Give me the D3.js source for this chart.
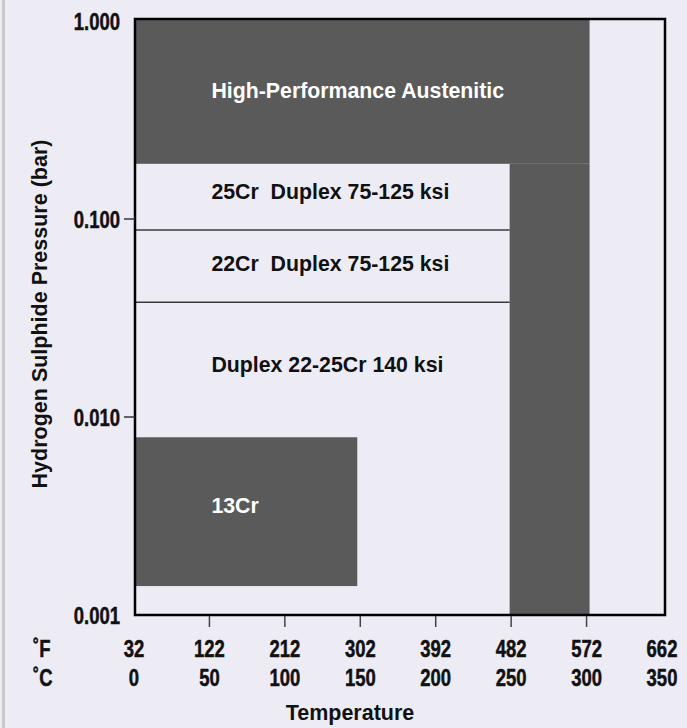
<!DOCTYPE html>
<html>
<head>
<meta charset="utf-8">
<script src="https://cdn.jsdelivr.net/npm/d3@7"></script>
<style>
  html, body { margin: 0; padding: 0; background: #edecf5; }
  #chart { width: 687px; height: 728px; }
  .narrow { font-family: "Liberation Sans", Arial, Helvetica, sans-serif; font-weight: bold; }
  .sans { font-family: "Liberation Sans", Arial, Helvetica, sans-serif; font-weight: bold; }
</style>
</head>
<body>
<div id="chart"></div>
<script>
// temperature axis (deg C) and matching deg F labels
var tempC = [0, 50, 100, 150, 200, 250, 300, 350];
var tempF = [32, 122, 212, 302, 392, 482, 572, 662];
var tickC = [50, 100, 150, 200, 250, 300];

// H2S pressure axis (bar)
var pressTicks = [1, 0.1, 0.01, 0.001];
var pressTickLabels = ["1.000", "0.100", "0.010", "0.001"];
var pressMinorTicks = [0.1, 0.01];

// material regions: [tMin, tMax], [pMin, pMax]
var regionNames = ["High-Performance Austenitic", "High-Performance Austenitic band", "13Cr"];
var regionT = [[0, 302], [249, 302], [0, 148]];
var regionP = [[0.19, 1], [0.001, 0.19], [0.0014, 0.0079]];

// boundary lines between duplex grades (bar), running from 0 to 249 C
var boundaryP = [0.088, 0.038];
var boundaryT = [0, 249];

// text labels inside the chart
var labelText = ["High-Performance Austenitic", "25Cr  Duplex 75-125 ksi", "22Cr  Duplex 75-125 ksi", "Duplex 22-25Cr 140 ksi", "13Cr"];
var labelP = [0.449, 0.1385, 0.06, 0.0185, 0.0036];
var labelT = [50, 50, 50, 50, 50];
var labelDark = [false, true, true, true, false];

var W = 687, H = 728;
var box = {left: 135, right: 665, top: 19, bottom: 615};
var squeeze = 0.77;   // condensed look for the axis numbers

var svg = d3.select("#chart")
  .append("svg")
    .attr("width", W)
    .attr("height", H);

// left grey edge of the panel
svg.append("rect")
  .attr("x", 2).attr("y", 0)
  .attr("width", 3).attr("height", H)
  .attr("fill", "#c9c9cc");

var x = d3.scaleLinear()
  .domain([0, 350])
  .range([134, 662]);

var y = d3.scaleLog()
  .domain([0.001, 1])
  .range([615, 21]);

function clipX(v) { return Math.max(box.left, Math.min(box.right, v)); }
function clipY(v) { return Math.max(box.top, Math.min(box.bottom, v)); }

// regions
svg.append("g")
  .selectAll("rect")
  .data(regionNames)
  .enter().append("rect")
    .attr("x", function(d, i) { return clipX(x(regionT[i][0])); })
    .attr("width", function(d, i) { return clipX(x(regionT[i][1])) - clipX(x(regionT[i][0])); })
    .attr("y", function(d, i) { return i == 0 ? box.top : clipY(y(regionP[i][1])); })
    .attr("height", function(d, i) {
      var top = i == 0 ? box.top : clipY(y(regionP[i][1]));
      return clipY(y(regionP[i][0])) - top;
    })
    .attr("fill", "#5a5a5a");

// boundary lines
svg.append("g")
  .selectAll("line")
  .data(boundaryP)
  .enter().append("line")
    .attr("x1", clipX(x(boundaryT[0])))
    .attr("x2", x(boundaryT[1]))
    .attr("y1", function(d) { return y(d); })
    .attr("y2", function(d) { return y(d); })
    .attr("stroke", "#3a3a3a")
    .attr("stroke-width", 1.4);

// frame
svg.append("rect")
  .attr("x", box.left).attr("y", box.top)
  .attr("width", box.right - box.left)
  .attr("height", box.bottom - box.top)
  .attr("fill", "none")
  .attr("stroke", "#000")
  .attr("stroke-width", 2.5);

// y ticks + labels
svg.append("g")
  .selectAll("line")
  .data(pressMinorTicks)
  .enter().append("line")
    .attr("x1", 124).attr("x2", box.left)
    .attr("y1", function(d) { return y(d); })
    .attr("y2", function(d) { return y(d); })
    .attr("stroke", "#333")
    .attr("stroke-width", 1.5);

function narrowText(g, px, py, anchor, txt) {
  g.append("text")
    .attr("class", "narrow")
    .attr("transform", "translate(" + px + "," + py + ") scale(" + squeeze + ",1)")
    .attr("dy", "0.36em")
    .attr("text-anchor", anchor)
    .attr("font-size", 24)
    .attr("stroke", "#111")
    .attr("stroke-width", 0.5)
    .attr("fill", "#111")
    .text(txt);
}

var yLab = svg.append("g");
pressTicks.forEach(function(d, i) {
  narrowText(yLab, 120, y(d), "end", pressTickLabels[i]);
});

// x ticks
svg.append("g")
  .selectAll("line")
  .data(tickC)
  .enter().append("line")
    .attr("x1", function(d) { return x(d); })
    .attr("x2", function(d) { return x(d); })
    .attr("y1", box.bottom + 1)
    .attr("y2", box.bottom + 12)
    .attr("stroke", "#444")
    .attr("stroke-width", 1.5);

// x labels, deg F row and deg C row
var xLab = svg.append("g");
tempC.forEach(function(d, i) {
  narrowText(xLab, x(d), 648, "middle", tempF[i]);
  narrowText(xLab, x(d), 677, "middle", d);
});
narrowText(xLab, 33, 648, "start", "˚F");
narrowText(xLab, 33, 677, "start", "˚C");

// axis titles
svg.append("text")
  .attr("class", "sans")
  .attr("x", (box.left + box.right) / 2 - 50)
  .attr("y", 712)
  .attr("dy", "0.36em")
  .attr("text-anchor", "middle")
  .attr("font-size", 21.5)
  .attr("fill", "#111")
  .text("Temperature");

svg.append("text")
  .attr("class", "sans")
  .attr("transform", "translate(47," + ((box.top + box.bottom) / 2 - 3) + ") rotate(-90)")
  .attr("text-anchor", "middle")
  .attr("font-size", 21.5)
  .attr("fill", "#111")
  .text("Hydrogen Sulphide Pressure (bar)");

// region labels
svg.append("g")
  .selectAll("text")
  .data(labelText)
  .enter().append("text")
    .attr("class", "sans")
    .attr("x", function(d, i) { return x(labelT[i]) + 2; })
    .attr("y", function(d, i) { return y(labelP[i]); })
    .attr("dy", "0.36em")
    .attr("font-size", 21.3)
    .attr("fill", function(d, i) { return labelDark[i] ? "#111" : "#fff"; })
    .style("white-space", "pre")
    .text(function(d) { return d; });
</script>
</body>
</html>
